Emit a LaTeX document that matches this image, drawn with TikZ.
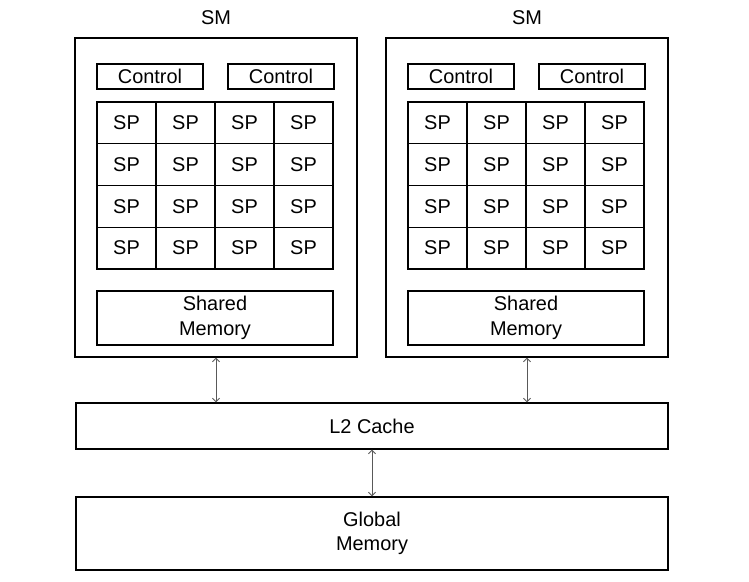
\documentclass[tikz,border=0pt]{standalone}
\usepackage{fontspec}
\setmainfont{Liberation Sans}
\usetikzlibrary{arrows.meta}

\begin{document}
\begin{tikzpicture}[x=0.03cm, y=-0.03cm,
  every node/.style={font=\fontsize{17}{21}\selectfont},
  unit/.style={draw, line width=1.2pt, inner sep=0pt, align=center},
  link/.style={draw=black!65, line width=0.7pt,
    {Straight Barb[length=3pt,width=6pt]}-{Straight Barb[length=3pt,width=6pt]}}]
  \useasboundingbox (0,0) rectangle (749,581);

  % Draw the two streaming multiprocessors
  \foreach \s/\x in {L/75, R/386} {
    \node[unit, minimum width=282*0.03cm, minimum height=319*0.03cm] (sm\s) at (\x+141,197.5) {};
    \node (lbl\s) at (\x+141,18) {SM};
    \node[unit, minimum width=106*0.03cm, minimum height=25*0.03cm] (ctlA\s) at (\x+75,76.5) {Control};
    \node[unit, minimum width=106*0.03cm, minimum height=25*0.03cm] (ctlB\s) at (\x+206,76.5) {Control};

    % 4x4 grid of SP cores
    \foreach \r in {1,...,4} {
      \foreach \c in {1,...,4} {
        \node[unit, minimum width=59*0.03cm, minimum height=41.75*0.03cm] (sp\s\r\c)
          at (\x+22+59*\c-29.5, 102+41.75*\r-20.875) {SP};
      }
    }

    \node[unit, minimum width=236*0.03cm, minimum height=54*0.03cm] (shm\s) at (\x+140,318) {Shared\\Memory};
  }

  % Cache and global memory
  \node[unit, minimum width=592*0.03cm, minimum height=46*0.03cm] (l2) at (372,426) {L2 Cache};
  \node[unit, minimum width=592*0.03cm, minimum height=73*0.03cm] (gm) at (372,533.5) {Global\\Memory};

  % Connections
  \draw[link] (smL.south) -- (smL.south |- l2.north);
  \draw[link] (smR.south) -- (smR.south |- l2.north);
  \draw[link] (l2.south) -- (gm.north);

\end{tikzpicture}
\end{document}
